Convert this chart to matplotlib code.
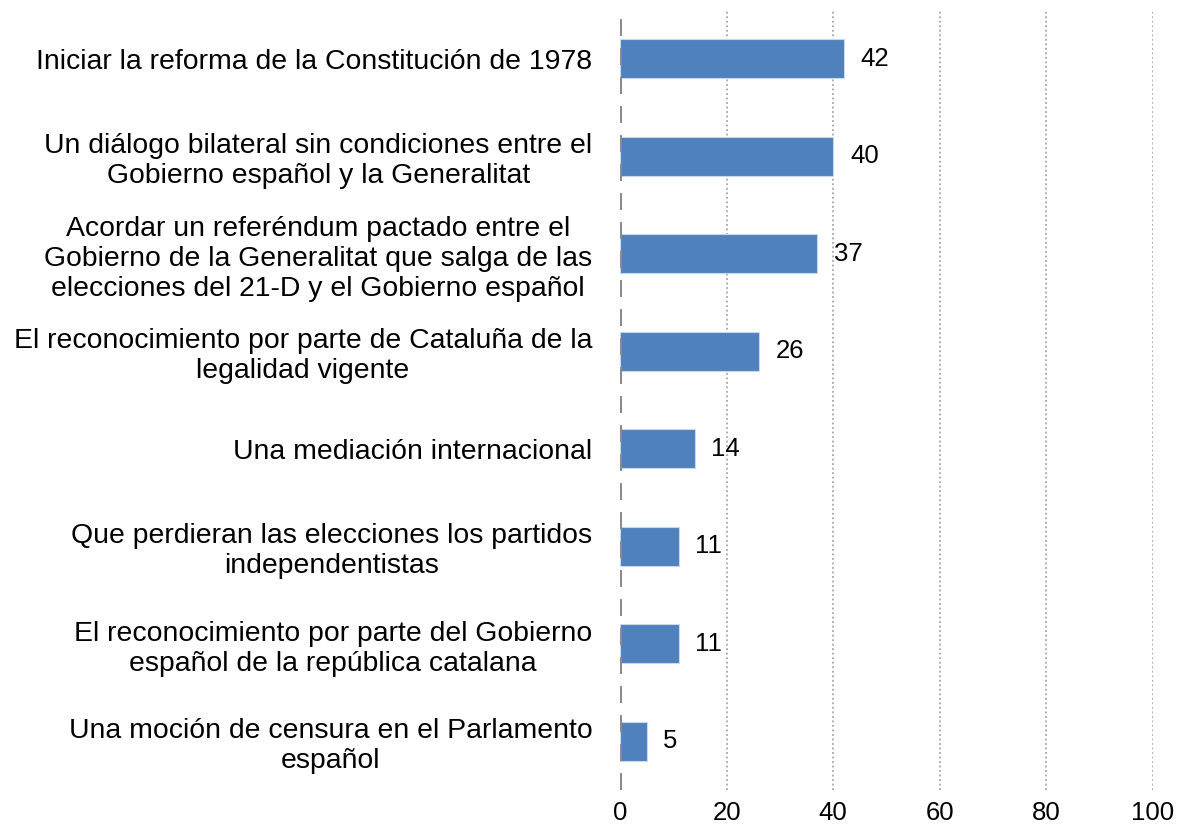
import matplotlib
matplotlib.use("Agg")
import matplotlib.pyplot as plt

categories = [
    "Iniciar la reforma de la Constitución de 1978",
    "Un diálogo bilateral sin condiciones entre el\nGobierno español y la Generalitat",
    "Acordar un referéndum pactado entre el\nGobierno de la Generalitat que salga de las\nelecciones del 21-D y el Gobierno español",
    "El reconocimiento por parte de Cataluña de la\nlegalidad vigente",
    "Una mediación internacional",
    "Que perdieran las elecciones los partidos\nindependentistas",
    "El reconocimiento por parte del Gobierno\nespañol de la república catalana",
    "Una moción de censura en el Parlamento\nespañol",
]
values = [42, 40, 37, 26, 14, 11, 11, 5]
xticks = [0, 20, 40, 60, 80, 100]

plt.rcParams["font.family"] = ["Liberation Sans", "DejaVu Sans"]

fig = plt.figure(figsize=(11.77, 8.38), dpi=100)
ax = fig.add_axes([0.5268, 0.0573, 0.4528, 0.9307])

ypos = list(range(len(categories)))
ax.barh(ypos, values, height=0.4, color="#4F81BD", edgecolor="#C9D7EA",
        linewidth=0.8, zorder=2)

for y, v in zip(ypos, values):
    ax.annotate(f"{v}", xy=(v, y), xytext=(12, 0), textcoords="offset points",
                ha="left", va="center", fontsize=18.5, color="black")

ax.set_xlim(0, 100)
ax.set_ylim(len(categories) - 0.5, -0.5)
ax.set_xticks(xticks)
ax.set_xticklabels([str(t) for t in xticks], fontsize=18.5)
ax.set_yticks(ypos)
ax.set_yticklabels(categories, fontsize=20.4, multialignment="center",
                   linespacing=1.2)
ax.tick_params(axis="both", length=0)
ax.tick_params(axis="x", pad=8)
ax.tick_params(axis="y", pad=20)

for s in ax.spines.values():
    s.set_visible(False)

for t in xticks[1:]:
    ax.axvline(t, color="#A6A6A6", linestyle=(0, (1, 1.5)), linewidth=1.3, zorder=1)

ax.axvline(0, color="#8A8A8A", linewidth=2.9, linestyle=(0, (4.2, 3.0)), zorder=3)

fig.savefig("out.png", dpi=100)
